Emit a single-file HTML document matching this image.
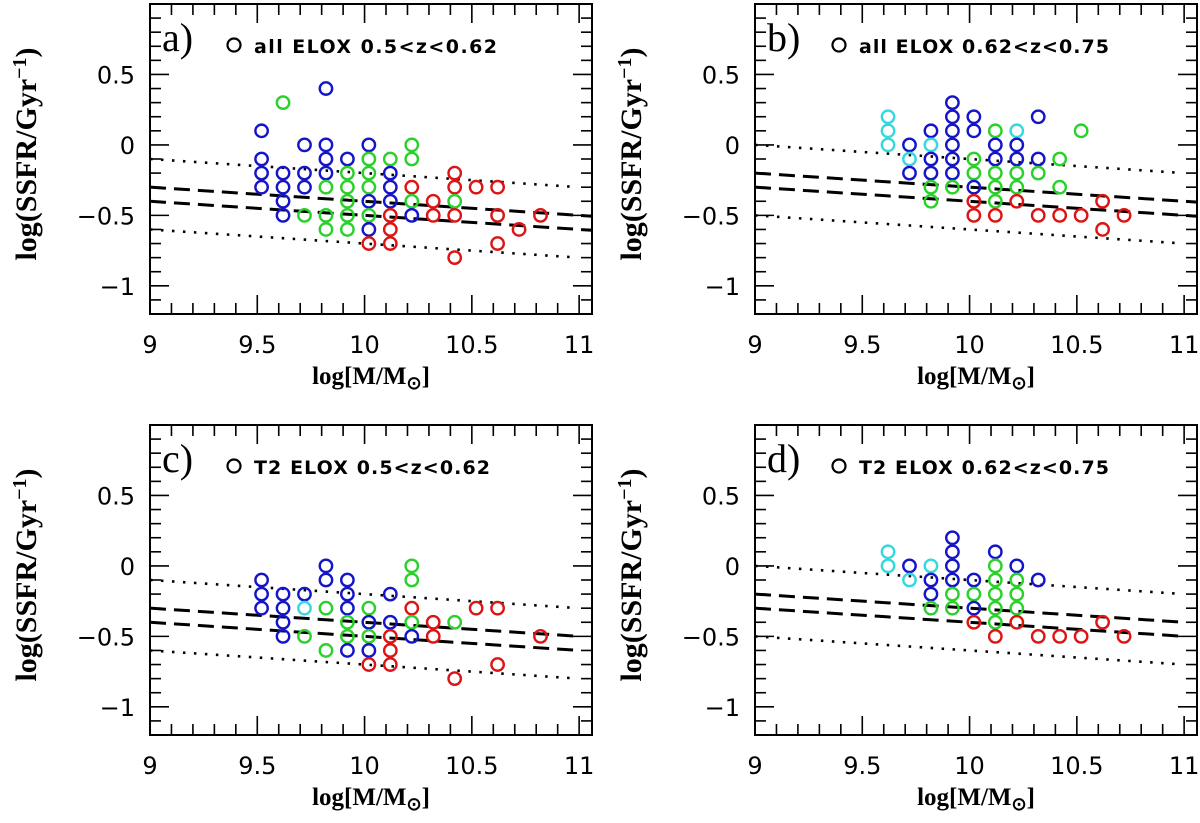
<!DOCTYPE html>
<html><head><meta charset="utf-8">
<style>
html,body{margin:0;padding:0;background:#fff;}
svg{display:block;}
</style></head>
<body>
<svg id="fig" width="1200" height="823" viewBox="0 0 1200 823" xmlns="http://www.w3.org/2000/svg"></svg>
<script>
// ---------- data ----------
const xTicks = [9, 9.5, 10, 10.5, 11];
const xTickLabels = ["9", "9.5", "10", "10.5", "11"];
const yTicks = [0.5, 0, -0.5, -1];
const yTickLabels = ["0.5", "0", "\u22120.5", "\u22121"];

// panel a
const massA = [9.52,9.52,9.52,9.52, 9.62,9.62,9.62,9.62,9.62, 9.72,9.72,9.72,9.72, 9.82,9.82,9.82,9.82,9.82,9.82,9.82, 9.92,9.92,9.92,9.92,9.92,9.92, 10.02,10.02,10.02,10.02,10.02,10.02,10.02,10.02, 10.12,10.12,10.12,10.12,10.12,10.12,10.12, 10.22,10.22,10.22,10.22,10.22, 10.32,10.32, 10.42,10.42,10.42,10.42,10.42, 10.52, 10.62,10.62,10.62, 10.72, 10.82];
const ssfrA = [0.1,-0.1,-0.2,-0.3, 0.3,-0.2,-0.3,-0.4,-0.5, 0,-0.2,-0.3,-0.5, 0.4,0,-0.1,-0.2,-0.3,-0.5,-0.6, -0.1,-0.2,-0.3,-0.4,-0.5,-0.6, 0,-0.1,-0.2,-0.3,-0.4,-0.5,-0.6,-0.7, -0.1,-0.2,-0.3,-0.4,-0.5,-0.6,-0.7, 0,-0.1,-0.3,-0.4,-0.5, -0.4,-0.5, -0.2,-0.3,-0.4,-0.5,-0.8, -0.3, -0.3,-0.5,-0.7, -0.6, -0.5];
const classA = ["b","b","b","b", "g","b","b","b","b", "b","b","b","g", "b","b","b","b","g","g","g", "b","g","g","g","g","g", "b","g","g","g","b","g","b","r", "g","b","b","b","r","r","r", "g","g","r","g","b", "r","r", "r","r","g","r","r", "r", "r","r","r", "r", "r"];

// panel b
const massB = [9.62,9.62,9.62, 9.72,9.72,9.72, 9.82,9.82,9.82,9.82,9.82,9.82, 9.92,9.92,9.92,9.92,9.92,9.92,9.92, 10.02,10.02,10.02,10.02,10.02,10.02,10.02, 10.12,10.12,10.12,10.12,10.12,10.12,10.12, 10.22,10.22,10.22,10.22,10.22,10.22, 10.32,10.32,10.32,10.32, 10.42,10.42,10.42, 10.52,10.52, 10.62,10.62, 10.72];
const ssfrB = [0.2,0.1,0, 0,-0.1,-0.2, 0.1,0,-0.1,-0.2,-0.3,-0.4, 0.3,0.2,0.1,0,-0.1,-0.2,-0.3, 0.2,0.1,-0.1,-0.2,-0.3,-0.4,-0.5, 0.1,0,-0.1,-0.2,-0.3,-0.4,-0.5, 0.1,0,-0.1,-0.2,-0.3,-0.4, 0.2,-0.1,-0.2,-0.5, -0.1,-0.3,-0.5, 0.1,-0.5, -0.4,-0.6, -0.5];
const classB = ["c","c","c", "b","c","b", "b","c","b","b","g","g", "b","b","b","b","b","b","g", "b","b","g","g","b","r","r", "g","b","b","g","g","g","r", "c","b","b","g","g","r", "b","b","g","r", "g","g","r", "g","r", "r","r", "r"];

// panel c
const massC = [9.52,9.52,9.52, 9.62,9.62,9.62,9.62, 9.72,9.72,9.72, 9.82,9.82,9.82,9.82, 9.92,9.92,9.92,9.92,9.92,9.92, 10.02,10.02,10.02,10.02,10.02, 10.12,10.12,10.12,10.12,10.12, 10.22,10.22,10.22,10.22,10.22, 10.32,10.32, 10.42,10.42, 10.52, 10.62,10.62, 10.82];
const ssfrC = [-0.1,-0.2,-0.3, -0.2,-0.3,-0.4,-0.5, -0.2,-0.3,-0.5, 0,-0.1,-0.3,-0.6, -0.1,-0.2,-0.3,-0.4,-0.5,-0.6, -0.3,-0.4,-0.5,-0.6,-0.7, -0.2,-0.4,-0.5,-0.6,-0.7, 0,-0.1,-0.3,-0.4,-0.5, -0.4,-0.5, -0.4,-0.8, -0.3, -0.3,-0.7, -0.5];
const classC = ["b","b","b", "b","b","b","b", "b","c","g", "b","b","g","g", "b","b","b","g","g","b", "g","b","g","b","r", "b","b","r","r","r", "g","g","r","g","b", "r","r", "g","r", "r", "r","r", "r"];

// panel d
const massD = [9.62,9.62, 9.72,9.72, 9.82,9.82,9.82,9.82, 9.92,9.92,9.92,9.92,9.92,9.92, 10.02,10.02,10.02,10.02, 10.12,10.12,10.12,10.12,10.12,10.12,10.12, 10.22,10.22,10.22,10.22,10.22, 10.32,10.32, 10.42, 10.52, 10.62, 10.72];
const ssfrD = [0.1,0, 0,-0.1, 0,-0.1,-0.2,-0.3, 0.2,0.1,0,-0.1,-0.2,-0.3, -0.1,-0.2,-0.3,-0.4, 0.1,0,-0.1,-0.2,-0.3,-0.4,-0.5, 0,-0.1,-0.2,-0.3,-0.4, -0.1,-0.5, -0.5, -0.5, -0.4, -0.5];
const classD = ["c","c", "b","c", "c","b","b","g", "b","b","b","b","g","g", "b","g","b","r", "b","g","g","g","g","g","r", "b","g","g","g","r", "b","r", "r", "r", "r", "r"];

// reference lines: intercept at log M = 9, common slope
const lineSlope = -0.1;
const dashInterceptLow = [-0.3, -0.4];
const dotInterceptLow = [-0.1, -0.6];
const dashInterceptHigh = [-0.2, -0.3];
const dotInterceptHigh = [0.0, -0.5];

const panelTags = ["a)", "b)", "c)", "d)"];
const panelLegends = ["all  ELOX  0.5<z<0.62", "all  ELOX  0.62<z<0.75", "T2  ELOX  0.5<z<0.62", "T2  ELOX  0.62<z<0.75"];
const legendWidths = [243, 250, 236, 250];

// ---------- drawing ----------
const NS = "http://www.w3.org/2000/svg";
const svg = document.getElementById("fig");
const COLORS = {b: "#1414c8", g: "#2ad12a", r: "#dd1414", c: "#35d8dc"};
const XMIN = 9, XMAX = 11.06, YMIN = -1.2, YMAX = 1.0, W = 442, H = 310;

function mk(tag, attrs, parent) {
  const e = document.createElementNS(NS, tag);
  for (const k in attrs) e.setAttribute(k, attrs[k]);
  (parent || svg).appendChild(e);
  return e;
}

function drawPanel(L, T, mass, ssfr, cls, dashI, dotI, tag, legend, legW, pname, lineEnd) {
  const sx = v => L + (v - XMIN) * W / (XMAX - XMIN);
  const sy = v => T + (YMAX - v) * H / (YMAX - YMIN);
  const g = mk("g", {});
  
  

  const fr = mk("rect", {x: L, y: T, width: W, height: H, fill: "none", stroke: "#000", "stroke-width": 2}, g);
  
  

  for (let i = 1; i <= 20; i++) {
    const v = 9 + i * 0.1;
    if (v > XMAX) break;
    const major = (i % 5 === 0);
    const len = major ? 19 : 11;
    const x = sx(v);
    const t1 = mk("line", {x1: x, y1: T + H, x2: x, y2: T + H - len, stroke: "#000", "stroke-width": 1.6}, g);
    
    
    const t2 = mk("line", {x1: x, y1: T, x2: x, y2: T + len, stroke: "#000", "stroke-width": 1.6}, g);
    
    
  }
  for (let i = -11; i <= 9; i++) {
    const v = i * 0.1;
    const major = (i % 5 === 0);
    const len = major ? 19 : 11;
    const y = sy(v);
    const t1 = mk("line", {x1: L, y1: y, x2: L + len, y2: y, stroke: "#000", "stroke-width": 1.6}, g);
    
    
    const t2 = mk("line", {x1: L + W, y1: y, x2: L + W - len, y2: y, stroke: "#000", "stroke-width": 1.6}, g);
    
    
  }
  xTicks.forEach((v, i) => {
    const t = mk("text", {x: sx(v), y: T + H + 39, "text-anchor": "middle", "font-family": "DejaVu Sans, Liberation Sans, sans-serif", "font-size": 24, fill: "#000"}, g);
    t.textContent = xTickLabels[i];
    
    
  });
  yTicks.forEach((v, i) => {
    const t = mk("text", {x: L - 15, y: sy(v) + 9, "text-anchor": "end", "font-family": "DejaVu Sans, Liberation Sans, sans-serif", "font-size": 24, fill: "#000"}, g);
    t.textContent = yTickLabels[i];
    
    
  });
  const xt = mk("text", {x: L + 221, y: T + H + 70, "text-anchor": "middle", "font-family": "Liberation Serif, serif", "font-size": 25, "font-weight": "bold", fill: "#000"}, g);
  xt.innerHTML = 'log[M/M<tspan font-size="18" dy="5">\u2299</tspan><tspan dy="-5">]</tspan>';
  
  
  const cy = T + 150;
  const tx = L - 114;
  const yt = mk("text", {x: tx, y: cy, "text-anchor": "middle", "font-family": "Liberation Serif, serif", "font-size": 30, "font-weight": "bold", fill: "#000", transform: `rotate(-90 ${tx} ${cy})`}, g);
  yt.innerHTML = 'log(SSFR/Gyr<tspan font-size="20" dy="-10">\u22121</tspan><tspan dy="10">)</tspan>';
  
  

  const tg = mk("text", {x: L + 12, y: T + 47, "font-family": "Liberation Serif, serif", "font-size": 40, fill: "#000"}, g);
  tg.textContent = tag;
  
  
  const lc = mk("circle", {cx: L + 84, cy: T + 41, r: 6.5, fill: "none", stroke: "#000", "stroke-width": 2.2}, g);
  
  
  const lt = mk("text", {x: L + 104, y: T + 49, "font-family": "DejaVu Sans, Liberation Sans, sans-serif", "font-size": 19, "font-weight": "bold", fill: "#000", textLength: legW, lengthAdjust: "spacing", "xml:space": "preserve"}, g);
  lt.textContent = legend;
  
  

  const clip = L + W;
  dashI.forEach(b => {
    const l = mk("line", {x1: sx(9), y1: sy(b), x2: Math.min(sx(lineEnd[0]), clip), y2: sy(b + lineSlope * (lineEnd[0] - 9)), stroke: "#000", "stroke-width": 3, "stroke-dasharray": "16 8"}, g);
    
    
  });
  dotI.forEach(b => {
    const l = mk("line", {x1: sx(9), y1: sy(b), x2: sx(lineEnd[1]), y2: sy(b + lineSlope * (lineEnd[1] - 9)), stroke: "#000", "stroke-width": 2.6, "stroke-dasharray": "2.5 8.5"}, g);
    
    
  });

  mass.forEach((m, i) => {
    const c = mk("circle", {cx: sx(m), cy: sy(ssfr[i]), r: 6.2, fill: "none", stroke: COLORS[cls[i]], "stroke-width": 2.4}, g);
    
    
  });
}

drawPanel(150, 4, massA, ssfrA, classA, dashInterceptLow, dotInterceptLow, panelTags[0], panelLegends[0], legendWidths[0], "panel-a", [11.06, 10.98]);
drawPanel(755, 4, massB, ssfrB, classB, dashInterceptHigh, dotInterceptHigh, panelTags[1], panelLegends[1], legendWidths[1], "panel-b", [11.06, 10.98]);
drawPanel(150, 425, massC, ssfrC, classC, dashInterceptLow, dotInterceptLow, panelTags[2], panelLegends[2], legendWidths[2], "panel-c", [10.98, 10.98]);
drawPanel(755, 425, massD, ssfrD, classD, dashInterceptHigh, dotInterceptHigh, panelTags[3], panelLegends[3], legendWidths[3], "panel-d", [10.98, 10.98]);
</script>
</body></html>
